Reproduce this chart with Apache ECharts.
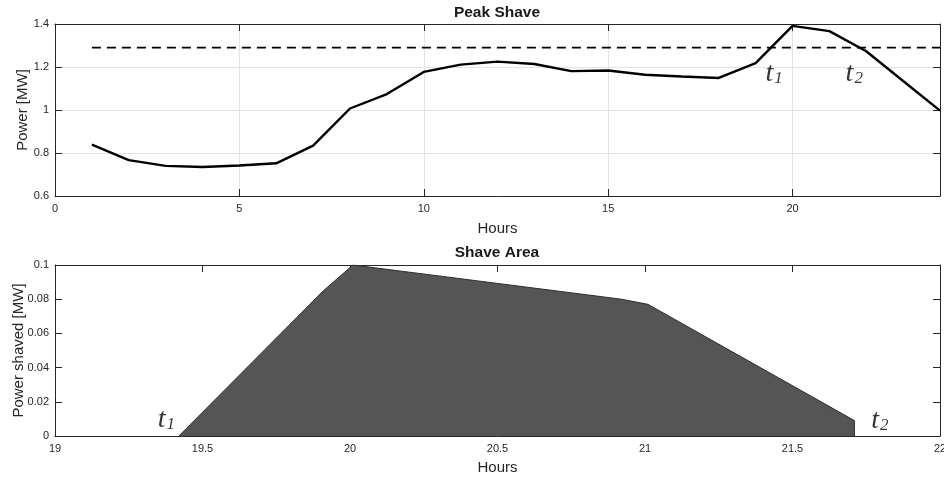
<!DOCTYPE html>
<html>
<head>
<meta charset="utf-8">
<title>Peak Shave</title>
<script src="https://cdn.jsdelivr.net/npm/echarts@6/dist/echarts.min.js"></script>
<style>
  html, body { margin: 0; padding: 0; background: #fff; }
  #chart { width: 944px; height: 479px; }
</style>
</head>
<body>
<div id="chart"></div>
<script>
// Hourly load profile (MW)
const hours = [1, 2, 3, 4, 5, 6, 7, 8, 9, 10, 11, 12, 13, 14, 15, 16, 17, 18, 19, 20, 21, 22, 23, 24];
const loadMW = [0.839, 0.767, 0.740, 0.735, 0.742, 0.752, 0.834, 1.007, 1.074, 1.177, 1.211, 1.225,
                1.214, 1.181, 1.184, 1.164, 1.156, 1.149, 1.218, 1.391, 1.367, 1.273, 1.135, 0.997];

// Peak-shave threshold (MW) and the hours it spans
const thresholdMW = 1.29;
const thresholdHours = [1, 24];

// Power shaved above the threshold (MW)
const shaveHours = [19.42, 19.91, 20.01, 20.92, 21.01, 21.71, 21.71];
const shaveMW = [0, 0.085, 0.1, 0.08, 0.077, 0.009, 0];

// Tick settings
const peakXTicks = { min: 0, max: 24, interval: 5 };
const peakYTicks = { min: 0.6, max: 1.4, interval: 0.2 };
const shaveXTicks = { min: 19, max: 22, interval: 0.5 };
const shaveYTicks = { min: 0, max: 0.1, interval: 0.02 };

// Time markers t1 / t2 (label anchors in data units)
const peakMarkers = [{ sub: '1', at: [19.27, 1.132] }, { sub: '2', at: [21.44, 1.132] }];
const shaveMarkers = [{ sub: '1', at: [19.348, 0.0047] }, { sub: '2', at: [21.767, 0.0043] }];

const INK = '#262626';
const SANS = 'Liberation Sans, Arial, Helvetica, sans-serif';
const SERIF = 'Liberation Serif, Times New Roman, serif';

// Main axis with labels plus a mirrored axis on the opposite side, giving a closed box
function boxAxes(ticks, gridIndex, kind, name, nameGap, split) {
  const main = {
    type: 'value', gridIndex, min: ticks.min, max: ticks.max, interval: ticks.interval,
    position: kind === 'x' ? 'bottom' : 'left',
    axisLine: { show: true, onZero: false, lineStyle: { color: INK, width: 1 } },
    axisTick: { show: true, inside: true, length: 7, lineStyle: { color: INK } },
    axisLabel: {
      show: true, color: INK, fontFamily: SANS, fontSize: 11,
      margin: kind === 'x' ? 7 : 6,
      showMaxLabel: kind === 'x' ? ticks.max % ticks.interval === 0 : true
    },
    splitLine: { show: split, lineStyle: { color: '#e3e3e3', width: 1 } },
    name, nameLocation: 'middle', nameGap, nameMoveOverlap: false,
    nameTextStyle: { color: INK, fontFamily: SANS, fontSize: 15 }
  };
  const mirror = {
    type: 'value', gridIndex, min: ticks.min, max: ticks.max, interval: ticks.interval,
    position: kind === 'x' ? 'top' : 'right',
    axisLine: { show: true, onZero: false, lineStyle: { color: INK, width: 1 } },
    axisTick: { show: true, inside: true, length: 7, lineStyle: { color: INK } },
    axisLabel: { show: false },
    splitLine: { show: false }
  };
  return [main, mirror];
}

function markerSeries(markers, xAxisIndex, yAxisIndex) {
  return {
    type: 'scatter', xAxisIndex, yAxisIndex, symbolSize: 0, silent: true, z: 10,
    data: markers.map(m => ({ value: m.at, sub: m.sub })),
    label: {
      show: true, position: [0, 0], align: 'left', verticalAlign: 'bottom', offset: [0, 6],
      formatter: p => '{t|t}{s|' + p.data.sub + '}',
      rich: {
        t: { fontFamily: SERIF, fontStyle: 'italic', fontSize: 28, color: '#000', verticalAlign: 'bottom' },
        s: { fontFamily: SERIF, fontStyle: 'italic', fontSize: 17, color: '#000', verticalAlign: 'bottom', padding: [0, 0, 1, 1] }
      }
    }
  };
}

const [px0, px1] = boxAxes(peakXTicks, 0, 'x', 'Hours', 25, true);
const [py0, py1] = boxAxes(peakYTicks, 0, 'y', 'Power [MW]', 25, true);
const [sx0, sx1] = boxAxes(shaveXTicks, 1, 'x', 'Hours', 24, false);
const [sy0, sy1] = boxAxes(shaveYTicks, 1, 'y', 'Power shaved [MW]', 29, false);

const chart = echarts.init(document.getElementById('chart'), null, { renderer: 'canvas' });
chart.setOption({
  animation: false,
  backgroundColor: '#ffffff',
  title: [
    { text: 'Peak Shave', left: 497, top: 5, textAlign: 'center', padding: 0,
      textStyle: { color: '#1a1a1a', fontFamily: SANS, fontSize: 15.5, fontWeight: 'bold' } },
    { text: 'Shave Area', left: 497, top: 245, textAlign: 'center', padding: 0,
      textStyle: { color: '#1a1a1a', fontFamily: SANS, fontSize: 15.5, fontWeight: 'bold' } }
  ],
  grid: [
    { left: 55, right: 4, top: 24, height: 172, containLabel: false, outerBoundsMode: 'none' },
    { left: 55, right: 4, top: 265, height: 171, containLabel: false, outerBoundsMode: 'none' }
  ],
  xAxis: [px0, px1, sx0, sx1],
  yAxis: [py0, py1, sy0, sy1],
  series: [
    {
      name: 'Load', type: 'line', xAxisIndex: 0, yAxisIndex: 0,
      data: hours.map((h, i) => [h, loadMW[i]]),
      showSymbol: false, smooth: false, z: 5,
      lineStyle: { color: '#000', width: 2.4 }
    },
    {
      name: 'Threshold', type: 'line', xAxisIndex: 0, yAxisIndex: 0,
      data: thresholdHours.map(h => [h, thresholdMW]),
      showSymbol: false, z: 4,
      lineStyle: { color: '#000', width: 1.8, type: [9, 6] }
    },
    {
      name: 'Shaved', type: 'line', xAxisIndex: 2, yAxisIndex: 2,
      data: shaveHours.map((h, i) => [h, shaveMW[i]]),
      showSymbol: false, z: 3,
      lineStyle: { color: '#2e2e2e', width: 1 },
      areaStyle: { color: '#555555', opacity: 1, origin: 'start' }
    },
    markerSeries(peakMarkers, 0, 0),
    markerSeries(shaveMarkers, 2, 2)
  ]
});
</script>
</body>
</html>
